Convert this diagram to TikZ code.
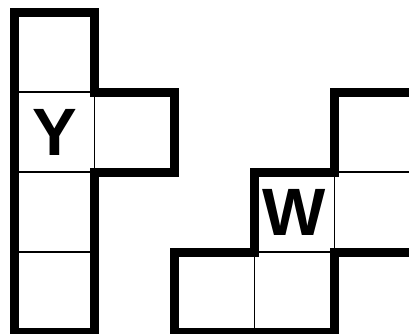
\documentclass[tikz,border=0pt]{standalone}
\usepackage{fontspec}
\setmainfont{Liberation Sans}
\begin{document}
\begin{tikzpicture}[x=1pt,y=-1pt,
  cell/.style={draw=black,line width=1.6pt,minimum size=80pt,inner sep=0pt,outer sep=0pt,
    font=\fontsize{67}{67}\selectfont\bfseries},
  outline/.style={draw=black,line width=9pt,line join=miter}]
\useasboundingbox (0,0) rectangle (409,333);
\begin{scope}
\clip (0,0) rectangle (409,333);
% left piece cells
\node[cell] (a1) at (54.5,52) {};
\node[cell] (a2) at (54.5,132) {Y};
\node[cell] (a3) at (134.5,132) {};
\node[cell] (a4) at (54.5,212) {};
\node[cell] (a5) at (54.5,292) {};
% right piece cells
\node[cell] (b1) at (214.5,292) {};
\node[cell] (b2) at (294.5,292) {};
\node[cell] (b3) at (294.5,212) {W};
\node[cell] (b4) at (374.5,212) {};
\node[cell] (b5) at (374.5,132) {};
% outlines
\draw[outline] (a1.north west) -- (a1.north east) -- (a3.north west) -- (a3.north east)
  -- (a3.south east) -- (a3.south west) -- (a5.south east) -- (a5.south west) -- cycle;
\draw[outline] (b1.south west) -- (b1.north west) -- (b3.south west) -- (b3.north west)
  -- (b5.south west) -- (b5.north west) -- (b5.north east) -- (b4.south east)
  -- (b4.south west) -- (b2.south east) -- cycle;
\end{scope}
\end{tikzpicture}
\end{document}
